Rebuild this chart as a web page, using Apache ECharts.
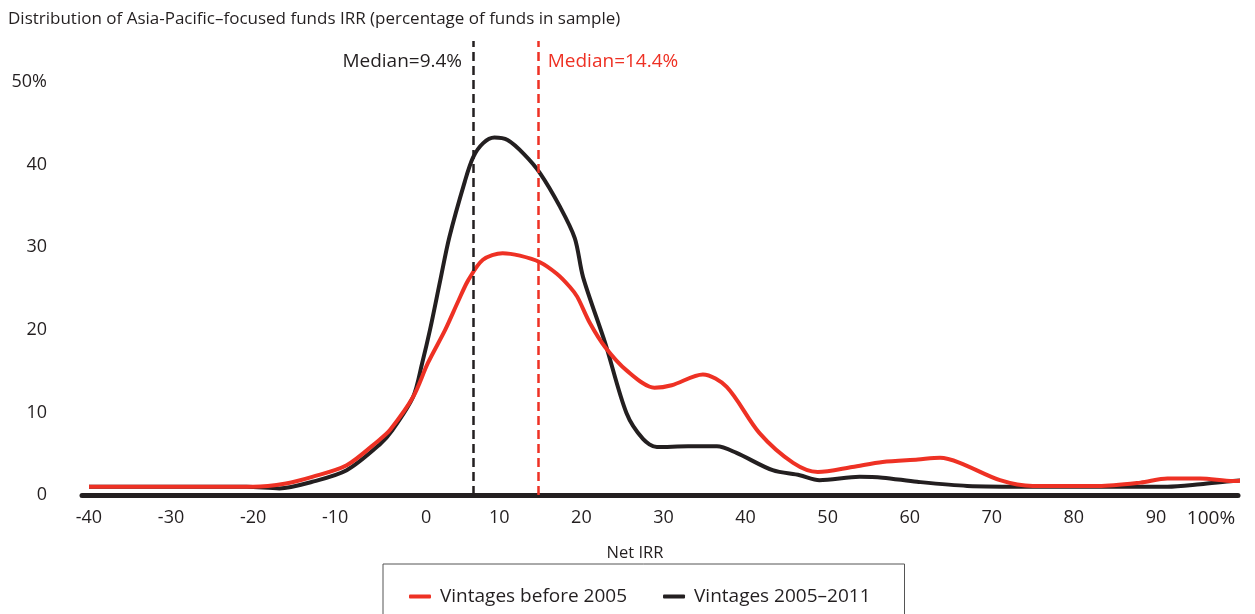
<!DOCTYPE html>
<html>
<head>
<meta charset="utf-8">
<script src="https://cdn.jsdelivr.net/npm/echarts@6/dist/echarts.min.js"></script>
<style>
  html, body { margin: 0; padding: 0; background: #fff; }
  #chart { width: 1255px; height: 614px; }
</style>
</head>
<body>
<div id="chart"></div>
<script>
// Net IRR (x) vs percentage of funds (y)
const redIrr = [-40, -30, -20, -16, -12.8, -8.6, -4.6, -3.3, -0.5, 1.3, 3.4, 5, 6.2, 8, 10.4, 12.5, 14.95, 17, 18.6, 19.5, 21.05, 22.9, 25.5, 28.9, 31, 34.8, 37.7, 41.7, 45.8, 48.8, 53, 56.7, 61, 63.7, 66.1, 71, 75, 83, 88.1, 91.4, 95.4, 99.4, 102.1]
const redPct = [1.0, 1.0, 1.0, 1.4, 2.2, 3.6, 6.7, 7.9, 11.9, 16.0, 20.0, 23.5, 26.0, 28.5, 29.3, 29.0, 28.2, 26.8, 25.2, 24.0, 20.8, 17.9, 15.1, 13.0, 13.3, 14.6, 13.1, 7.5, 3.9, 2.8, 3.4, 4.0, 4.3, 4.5, 3.9, 1.8, 1.1, 1.1, 1.5, 2.0, 2.0, 1.7, 1.9]

const blackIrr = [-40, -30, -20.8, -16.8, -12.8, -8.6, -4.6, -3.0, -0.5, 0.6, 1.55, 2.8, 3.9, 5.8, 6.8, 8, 9.4, 11, 13, 14.95, 17.4, 19.2, 20.2, 22.9, 25.5, 27.5, 29.2, 33, 36.5, 38.9, 43.3, 46.6, 49, 53.9, 56.7, 60.9, 67, 75, 91.4, 95.4, 99.4, 102.1]
const blackPct = [1.0, 1.0, 1.0, 0.8, 1.6, 3.0, 6.1, 7.9, 11.9, 16.0, 20.0, 26.0, 31.2, 38.0, 40.9, 42.6, 43.3, 43.0, 41.3, 39.0, 34.9, 31.1, 26.4, 18.4, 9.9, 6.8, 5.8, 5.9, 5.9, 5.1, 3.0, 2.4, 1.8, 2.2, 2.1, 1.6, 1.1, 1.0, 1.0, 1.3, 1.7, 1.9]

const seriesNames = ['Vintages before 2005', 'Vintages 2005\u20132011']
const medians = [14.8, 6.8]
const medianLabels = ['Median=14.4%', 'Median=9.4%']
const xTicks = [-40, -30, -20, -10, 0, 10, 20, 30, 40, 50, 60, 70, 80, 90, 100]
const yTicks = [0, 10, 20, 30, 40, 50]

const RED = '#ee3124'
const BLACK = '#231f20'
const FONT = 'Open Sans'

const zip = (xs, ys) => xs.map((x, i) => [x, ys[i]])

const chart = echarts.init(document.getElementById('chart'), null, { renderer: 'canvas' })

const option = {
  animation: false,
  textStyle: { fontFamily: FONT },
  title: {
    text: 'Distribution of Asia-Pacific\u2013focused funds IRR (percentage of funds in sample)',
    left: 3,
    top: 6,
    textStyle: { color: BLACK, fontSize: 17, fontWeight: 'normal', fontFamily: FONT }
  },
  legend: {
    data: seriesNames,
    bottom: -20,
    left: 383,
    icon: 'roundRect',
    itemWidth: 22,
    itemHeight: 4,
    itemGap: 36,
    padding: [23, 34, 28, 26],
    borderColor: '#555',
    borderWidth: 1,
    textStyle: { color: BLACK, fontSize: 19, fontFamily: FONT, padding: [0, 0, 0, 4] }
  },
  grid: {
    left: 82,
    right: 17,
    top: 41,
    bottom: 119,
    containLabel: false
  },
  xAxis: {
    type: 'value',
    min: -40.85,
    max: 100,
    name: 'Net IRR',
    nameLocation: 'middle',
    nameGap: 50,
    nameTextStyle: { color: BLACK, fontSize: 16.5, fontFamily: FONT, padding: [0, 50, 0, 0] },
    axisLine: { show: true, lineStyle: { color: BLACK, width: 5 } },
    axisTick: { show: false },
    splitLine: { show: false },
    axisLabel: {
      customValues: xTicks,
      color: BLACK,
      fontSize: 18,
      fontFamily: FONT,
      margin: 14,
      formatter: (v) => {
        if (v === 100) return '{last|100%}'
        if (v === 0) return '{zero|0}'
        return String(v)
      },
      rich: {
        last: { fontSize: 19, fontFamily: FONT, color: BLACK, padding: [0, 54, 0, 0] },
        zero: { fontSize: 18, fontFamily: FONT, color: BLACK, padding: [0, 0, 0, 18] }
      }
    }
  },
  yAxis: {
    type: 'value',
    min: 0,
    max: 55,
    axisLine: { show: false },
    axisTick: { show: false },
    splitLine: { show: false },
    axisLabel: {
      customValues: yTicks,
      color: BLACK,
      fontSize: 18,
      fontFamily: FONT,
      margin: 35,
      formatter: (v) => (v === 50 ? '50%' : String(v))
    }
  },
  series: [
    {
      name: seriesNames[1],
      type: 'line',
      data: zip(blackIrr, blackPct),
      smooth: 0.3,
      symbol: 'none',
      clip: false,
      lineStyle: { color: BLACK, width: 4 },
      itemStyle: { color: BLACK },
      z: 2,
      markLine: {
        silent: true,
        symbol: 'none',
        label: { show: false },
        lineStyle: { color: BLACK, width: 2.5, type: [9, 5] },
        data: [{ xAxis: medians[1] }]
      },
      markPoint: {
        silent: true,
        symbol: 'circle',
        symbolSize: 0,
        label: {
          show: true,
          position: 'left',
          distance: 11,
          color: BLACK,
          fontSize: 19,
          fontFamily: FONT,
          formatter: medianLabels[1]
        },
        data: [{ coord: [medians[1], 52.45] }]
      }
    },
    {
      name: seriesNames[0],
      type: 'line',
      data: zip(redIrr, redPct),
      smooth: 0.3,
      symbol: 'none',
      clip: false,
      lineStyle: { color: RED, width: 4 },
      itemStyle: { color: RED },
      z: 3,
      markLine: {
        silent: true,
        symbol: 'none',
        label: { show: false },
        lineStyle: { color: RED, width: 2.5, type: [9, 5] },
        data: [{ xAxis: medians[0] }]
      },
      markPoint: {
        silent: true,
        symbol: 'circle',
        symbolSize: 0,
        label: {
          show: true,
          position: 'right',
          distance: 9,
          color: RED,
          fontSize: 19,
          fontFamily: FONT,
          formatter: medianLabels[0]
        },
        data: [{ coord: [medians[0], 52.45] }]
      }
    }
  ]
}

chart.setOption(option)
</script>
</body>
</html>
